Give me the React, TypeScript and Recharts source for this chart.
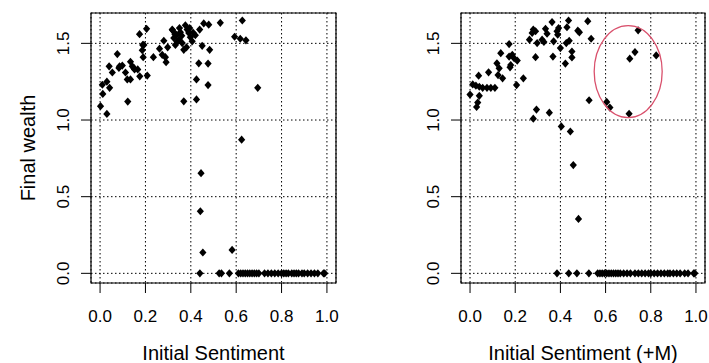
import React from 'react';
import {
    ScatterChart,
    Scatter,
    XAxis,
    YAxis,
    CartesianGrid,
    ReferenceArea,
    ReferenceDot
} from 'recharts';

// --- Data ---

const xTicks = [0, 0.2, 0.4, 0.6, 0.8, 1.0];
const yTicks = [0, 0.5, 1.0, 1.5];

const X_DOMAIN: [number, number] = [-0.04, 1.04];
const Y_DOMAIN: [number, number] = [-0.063, 1.698];

// left panel: initial sentiment only
const baseX = [
    0.002, 0.03, 0.012, 0.03, 0.042, 0.04, 0.054, 0.076, 0.083, 0.098,
    0.112, 0.12, 0.134, 0.122, 0.134, 0.142, 0.152, 0.166, 0.175, 0.174,
    0.205, 0.188, 0.186, 0.19, 0.208, 0.235, 0.262, 0.281, 0.274, 0.288,
    0.291, 0.298, 0.32, 0.325, 0.332, 0.337, 0.347, 0.354, 0.362, 0.369,
    0.376, 0.384, 0.391, 0.381, 0.398, 0.406, 0.42, 0.439, 0.457, 0.479,
    0.53, 0.45, 0.483, 0.435, 0.476, 0.425, 0.476, 0.369, 0.425, 0.627,
    0.593, 0.618, 0.643, 0.695, 0.624, 0.445, 0.442, 0.453, 0.582,
    0.01, 0.086, 0.149, 0.193, 0.318, 0.33, 0.35, 0.36, 0.34, 0.395, 0.41
];
const baseY = [
    1.09, 1.04, 1.17, 1.25, 1.21, 1.35, 1.31, 1.43, 1.34, 1.355,
    1.31, 1.265, 1.265, 1.12, 1.38, 1.35, 1.33, 1.33, 1.285, 1.56,
    1.595, 1.49, 1.455, 1.41, 1.29, 1.41, 1.465, 1.517, 1.425, 1.41,
    1.377, 1.474, 1.585, 1.535, 1.49, 1.556, 1.524, 1.572, 1.502, 1.458,
    1.618, 1.59, 1.568, 1.474, 1.54, 1.513, 1.553, 1.59, 1.63, 1.622,
    1.634, 1.484, 1.458, 1.37, 1.368, 1.265, 1.228, 1.122, 1.134, 1.649,
    1.543, 1.53, 1.52, 1.21, 0.872, 0.653, 0.405, 0.136, 0.153,
    1.23, 1.35, 1.34, 1.49, 1.59, 1.56, 1.6, 1.55, 1.51, 1.6, 1.57
];
const baseZeroX = [
    0.44, 0.525, 0.535, 0.57, 0.61, 0.62, 0.63, 0.64, 0.65, 0.66, 0.67, 0.68,
    0.69, 0.70, 0.725, 0.74, 0.755, 0.77, 0.785, 0.80, 0.81, 0.82, 0.83, 0.845,
    0.855, 0.865, 0.875, 0.89, 0.90, 0.915, 0.93, 0.945, 0.96, 0.985, 0.99
];

// right panel: initial sentiment plus M
const withMX = [
    0.0, 0.012, 0.026, 0.041, 0.056, 0.075, 0.092, 0.11, 0.038, 0.041,
    0.034, 0.029, 0.082, 0.119, 0.129, 0.124, 0.144, 0.136, 0.173, 0.173,
    0.187, 0.195, 0.209, 0.18, 0.177, 0.206, 0.236, 0.28, 0.275, 0.29,
    0.263, 0.297, 0.29, 0.319, 0.327, 0.334, 0.341, 0.363, 0.37, 0.385,
    0.392, 0.388, 0.4, 0.367, 0.429, 0.436, 0.426, 0.439, 0.451, 0.451,
    0.422, 0.477, 0.484, 0.521, 0.536, 0.527, 0.294, 0.28, 0.351, 0.404,
    0.444, 0.605, 0.619, 0.704, 0.707, 0.73, 0.744, 0.824, 0.457, 0.48
];
const withMY = [
    1.166, 1.232, 1.224, 1.217, 1.21, 1.21, 1.21, 1.21, 1.289, 1.158,
    1.114, 1.085, 1.311, 1.37, 1.337, 1.293, 1.272, 1.436, 1.495, 1.414,
    1.425, 1.403, 1.388, 1.359, 1.344, 1.228, 1.272, 1.59, 1.568, 1.579,
    1.524, 1.502, 1.41, 1.524, 1.509, 1.595, 1.563, 1.639, 1.513, 1.579,
    1.6, 1.556, 1.469, 1.414, 1.605, 1.649, 1.502, 1.517, 1.447, 1.408,
    1.368, 1.583, 1.572, 1.645, 1.53, 1.129, 1.068, 1.009, 1.048, 0.958,
    0.925, 1.118, 1.081, 1.041, 1.4, 1.443, 1.585, 1.421, 0.706, 0.355
];
const withMZeroX = [
    0.385, 0.437, 0.473, 0.526, 0.565, 0.575, 0.585, 0.595, 0.605, 0.615,
    0.625, 0.635, 0.645, 0.655, 0.665, 0.68, 0.695, 0.71, 0.73, 0.745,
    0.76, 0.775, 0.79, 0.80, 0.815, 0.83, 0.845, 0.86, 0.875, 0.885,
    0.90, 0.915, 0.93, 0.95, 0.965, 0.99, 0.995
];

// highlighted cluster (ellipse centre)
const highlight = { x: 0.70, y: 1.316 };

interface Pt {
    x: number;
    y: number;
}

const toPoints = (xs: number[], ys: number[], zeros: number[]): Pt[] => [
    ...xs.map((x, i) => ({ x, y: ys[i] })),
    ...zeros.map(x => ({ x, y: 0 }))
];

// --- Components ---

const FONT = '"Liberation Sans", Arial, Helvetica, sans-serif';

const Diamond = (props: any) => {
    const { cx, cy } = props;
    if (cx == null || cy == null) return null;
    return (
        <polygon
            points={`${cx},${cy - 4.1} ${cx + 3.6},${cy} ${cx},${cy + 4.1} ${cx - 3.6},${cy}`}
            fill="#000"
        />
    );
};

const YTick = ({ x, y, payload }: any) => (
    <text
        x={x}
        y={y}
        transform={`rotate(-90 ${x} ${y})`}
        textAnchor="middle"
        fontSize={17}
        fontFamily={FONT}
        fill="#000"
    >
        {Number(payload.value).toFixed(1)}
    </text>
);

interface PanelProps {
    data: Pt[];
    title: string;
    width: number;
    right: number;
    showEllipse?: boolean;
}

const Panel: React.FC<PanelProps> = ({ data, title, width, right, showEllipse }) => (
    <ScatterChart width={width} height={363} margin={{ top: 13, right, bottom: 0, left: 0 }}>
        <CartesianGrid stroke="#000" strokeDasharray="1.5 2.5" strokeWidth={1} />
        <XAxis
            type="number"
            dataKey="x"
            domain={X_DOMAIN}
            ticks={xTicks}
            interval={0}
            allowDataOverflow
            axisLine={false}
            tickLine={{ stroke: '#000' }}
            tickSize={10}
            tickMargin={17}
            height={80}
            tickFormatter={(v: number) => v.toFixed(1)}
            tick={{ fontSize: 17, fill: '#000', fontFamily: FONT }}
            label={{ value: title, position: 'insideBottom', offset: 3, fontSize: 20, fill: '#000', fontFamily: FONT }}
        />
        <YAxis
            type="number"
            dataKey="y"
            domain={Y_DOMAIN}
            ticks={yTicks}
            interval={0}
            allowDataOverflow
            axisLine={false}
            tickLine={{ stroke: '#000' }}
            tickSize={10}
            tickMargin={12}
            width={91}
            tick={<YTick />}
        />
        <ReferenceArea
            x1={X_DOMAIN[0]}
            x2={X_DOMAIN[1]}
            y1={Y_DOMAIN[0]}
            y2={Y_DOMAIN[1]}
            fill="none"
            fillOpacity={0}
            stroke="#000"
            strokeWidth={1.2}
            ifOverflow="visible"
        />
        <Scatter data={data} shape={<Diamond />} isAnimationActive={false} />
        {showEllipse && (
            <ReferenceDot
                x={highlight.x}
                y={highlight.y}
                r={0}
                ifOverflow="visible"
                shape={(p: any) => (
                    <ellipse cx={p.cx} cy={p.cy} rx={34} ry={46} fill="none" stroke="#d9506c" strokeWidth={1.3} />
                )}
            />
        )}
    </ScatterChart>
);

export default function App() {
    const baseData = toPoints(baseX, baseY, baseZeroX);
    const withMData = toPoints(withMX, withMY, withMZeroX);

    return (
        <div style={{ position: 'absolute', left: 0, top: 0, width: 709, height: 363, background: '#fff', overflow: 'hidden' }}>
            <div style={{ position: 'absolute', left: 0, top: 0 }}>
                <Panel data={baseData} title="Initial Sentiment" width={360} right={24} />
            </div>
            <div style={{ position: 'absolute', left: 370, top: 0 }}>
                <Panel data={withMData} title="Initial Sentiment (+M)" width={339} right={4} showEllipse />
            </div>
            <svg width={709} height={363} style={{ position: 'absolute', left: 0, top: 0, pointerEvents: 'none' }}>
                <text
                    x={35}
                    y={148}
                    transform="rotate(-90 35 148)"
                    textAnchor="middle"
                    fontSize={20}
                    fontFamily={FONT}
                    fill="#000"
                >
                    Final wealth
                </text>
            </svg>
        </div>
    );
}
